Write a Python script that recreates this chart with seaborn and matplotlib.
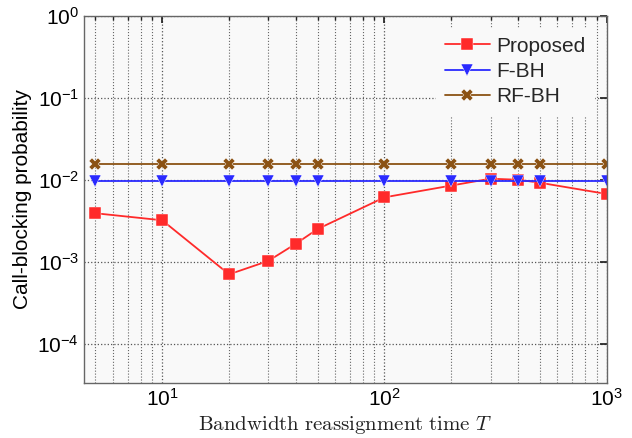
import matplotlib
matplotlib.use("Agg")
import matplotlib.pyplot as plt
import seaborn as sns
import pandas as pd
import numpy as np
from matplotlib.ticker import LogLocator, NullFormatter

T = [5, 10, 20, 30, 40, 50, 100, 200, 300, 400, 500, 1000]
proposed = [0.0039, 0.0032, 0.00070, 0.00102, 0.00166, 0.0025, 0.0061, 0.0085, 0.0103, 0.0100, 0.0092, 0.0067]
fbh = [0.0096] * 12
rfbh = [0.0155] * 12
series_names = ["Proposed", "F-BH", "RF-BH"]

df = pd.DataFrame({
    "T": T * 3,
    "P": proposed + fbh + rfbh,
    "method": sum([[n] * len(T) for n in series_names], []),
})

sns.set_theme(style="white")
plt.rcParams['font.family'] = ['Liberation Sans', 'DejaVu Sans']
plt.rcParams['mathtext.fontset'] = 'cm'
plt.rcParams['axes.unicode_minus'] = False

fig = plt.figure(figsize=(6.32, 4.38), dpi=100)
ax = fig.add_axes([0.133, 0.1256, 0.827, 0.838])
ax.set_facecolor("#f9f9f9")

palette = {"Proposed": "#ff2a2a", "F-BH": "#2a2aff", "RF-BH": "#8b5214"}
markers = {"Proposed": "s", "F-BH": "v", "RF-BH": "X"}
sns.lineplot(data=df, x="T", y="P", hue="method", style="method",
             palette=palette, markers=markers, dashes=False,
             markersize=8, linewidth=1.3, markeredgewidth=0.3, ax=ax)

ax.set_xscale("log")
ax.set_yscale("log")
ax.set_xlim(4.45, 1000)
ax.set_ylim(3.3e-5, 1)
ax.xaxis.set_major_locator(LogLocator(base=10, numticks=10))
ax.xaxis.set_minor_locator(LogLocator(base=10, subs=np.arange(2, 10), numticks=20))
ax.xaxis.set_minor_formatter(NullFormatter())
ax.yaxis.set_major_locator(LogLocator(base=10, numticks=10))
ax.yaxis.set_minor_locator(matplotlib.ticker.NullLocator())
ax.grid(True, which="major", axis="both", linestyle=":", color="#555555", linewidth=0.9)
ax.grid(True, which="minor", axis="x", linestyle=":", color="#666666", linewidth=0.8)
ax.tick_params(axis="both", which="both", direction="in", top=True, right=True, labelsize=15, colors="#222222")
ax.tick_params(which="major", length=5)
ax.tick_params(which="minor", length=3)
for lab in ax.get_xticklabels() + ax.get_yticklabels():
    lab.set_color("black")
for s in ax.spines.values():
    s.set_color("#666666")
    s.set_linewidth(1.0)

ax.set_xlabel(r"$\mathrm{Bandwidth\ reassignment\ time}\ T$", fontsize=15, color="#222222", labelpad=3)
ax.set_ylabel("Call-blocking probability", fontsize=15, color="black", labelpad=4)

leg = ax.legend(loc="upper right", fontsize=15, frameon=True, handlelength=2.2,
                borderaxespad=0.6, labelspacing=0.3, handletextpad=0.3)
leg.get_frame().set_facecolor("#f9f9f9")
leg.get_frame().set_edgecolor("#f9f9f9")
leg.get_frame().set_alpha(1)

fig.savefig("out.png", dpi=100)
